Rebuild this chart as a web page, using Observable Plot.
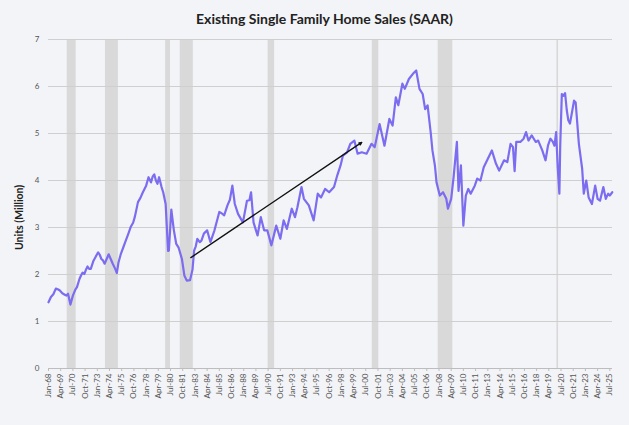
<!DOCTYPE html>
<html>
<head>
<meta charset="utf-8">
<script src="https://cdn.jsdelivr.net/npm/d3@7"></script>
<script src="https://cdn.jsdelivr.net/npm/@observablehq/plot@0.6"></script>
<style>
  html, body { margin: 0; padding: 0; background: #f3f4f7; }
  #title { height: 30px; line-height: 38px; text-align: center; padding-left: 20px; box-sizing: border-box;
           font-family: Lato, "Open Sans", sans-serif; font-weight: 700; font-size: 14px; color: #222; }
  #chart { width: 629px; }
</style>
</head>
<body>
<div id="title">Existing Single Family Home Sales (SAAR)</div>
<div id="chart"></div>
<script>
const months = [
  "1968-01","1968-04","1968-07","1968-10","1969-01","1969-03","1969-06","1969-09","1969-11",
  "1970-01","1970-04","1970-07","1970-10","1970-12","1971-03","1971-05","1971-07","1971-09","1971-11",
  "1972-01","1972-03","1972-05","1972-08","1972-11","1973-02","1973-04","1973-06","1973-08","1973-10",
  "1974-01","1974-03","1974-05","1974-08","1974-11","1975-01","1975-03","1975-06","1975-09","1975-12",
  "1976-03","1976-06","1976-09","1976-11","1977-01","1977-03","1977-06","1977-09","1977-11",
  "1978-01","1978-04","1978-07","1978-09","1978-11","1979-01","1979-03","1979-05","1979-08","1979-10",
  "1980-01","1980-04","1980-05","1980-08","1980-11","1981-02","1981-05","1981-09","1981-12",
  "1982-03","1982-07","1982-10","1982-12","1983-02","1983-04","1983-07","1983-09","1983-12",
  "1984-04","1984-08","1985-01","1985-07","1985-10","1986-01","1986-05","1986-08","1986-11",
  "1987-02","1987-06","1987-12","1988-05","1988-08","1988-10","1989-01","1989-06","1989-10",
  "1990-02","1990-06","1990-11","1991-05","1991-10","1992-02","1992-06","1992-12","1993-04","1993-07",
  "1993-12","1994-03","1994-09","1995-03","1995-08","1995-12","1996-05","1996-10","1997-04","1997-08",
  "1997-12","1998-03","1998-08","1998-12","1999-05","1999-09","2000-02","2000-08","2001-02","2001-06",
  "2001-12","2002-06","2002-12","2003-04","2003-08","2003-11","2004-04","2004-07","2004-12","2005-05",
  "2005-09","2006-01","2006-05","2006-08","2006-11","2007-03","2007-05","2007-08","2007-10","2008-02",
  "2008-06","2008-10","2008-12","2009-04","2009-07","2009-11","2010-01","2010-04","2010-07","2010-10",
  "2011-01","2011-04","2011-09","2011-12","2012-04","2012-08","2013-06","2013-11","2014-03","2014-09",
  "2015-01","2015-05","2015-08","2015-10","2015-12","2016-05","2016-09","2016-12","2017-03","2017-07",
  "2017-12","2018-03","2018-08","2018-12","2019-03","2019-06","2019-09","2019-11","2020-01","2020-03",
  "2020-05","2020-06","2020-08","2020-10","2020-12","2021-02","2021-04","2021-06","2021-09","2021-11",
  "2022-01","2022-05","2022-09","2022-11","2023-02","2023-05","2023-09","2024-01","2024-04","2024-07",
  "2024-11","2025-02","2025-05","2025-07","2025-10"
];
const sales = [
  1.41,1.52,1.58,1.70,1.68,1.66,1.60,1.57,1.55,
  1.59,1.36,1.55,1.68,1.73,1.90,1.98,2.04,2.01,2.10,
  2.17,2.12,2.12,2.28,2.38,2.47,2.42,2.33,2.30,2.23,
  2.35,2.43,2.35,2.23,2.12,2.03,2.25,2.44,2.58,2.72,
  2.86,3.01,3.10,3.22,3.38,3.54,3.63,3.75,3.82,
  3.89,4.07,3.96,4.08,4.13,4.00,3.93,4.07,3.86,3.75,
  3.50,2.50,2.51,3.38,2.95,2.65,2.57,2.33,1.98,
  1.87,1.88,2.10,2.51,2.60,2.76,2.69,2.72,2.87,
  2.94,2.69,2.94,3.33,3.30,3.26,3.47,3.59,3.89,
  3.50,3.29,3.11,3.57,3.58,3.75,3.11,2.83,3.22,
  2.94,2.94,2.62,3.04,2.76,3.15,2.97,3.40,3.22,3.43,
  3.86,3.61,3.47,3.15,3.72,3.64,3.82,3.75,3.86,4.11,
  4.32,4.53,4.60,4.78,4.85,4.57,4.60,4.57,4.78,4.71,
  5.20,4.74,5.31,5.17,5.77,5.60,6.06,5.95,6.16,6.27,
  6.34,5.95,5.84,5.52,5.60,5.00,4.64,4.32,3.96,3.68,
  3.75,3.61,3.40,3.61,4.07,4.82,3.78,4.32,3.04,3.68,
  3.82,3.72,3.89,4.04,4.00,4.28,4.64,4.36,4.21,4.43,
  4.39,4.78,4.71,4.20,4.82,4.82,4.89,5.03,4.85,4.96,
  4.82,4.85,4.64,4.43,4.74,4.89,4.82,4.74,5.03,4.28,
  3.72,4.71,5.84,5.80,5.86,5.50,5.28,5.21,5.50,5.70,
  5.66,4.78,4.25,3.72,4.00,3.64,3.50,3.89,3.61,3.57,
  3.86,3.61,3.72,3.68,3.75
];
const recessionStart = ["1969-12","1973-11","1980-01","1981-07","1990-07","2001-03","2007-12","2020-02"];
const recessionEnd   = ["1970-11","1975-03","1980-07","1982-11","1991-03","2001-11","2009-06","2020-04"];
const trendFrom = ["1982-08", 2.36];
const trendTo   = ["2000-02", 4.81];
const yTicks = [0,1,2,3,4,5,6,7];

const parse = d3.utcParse("%Y-%m");
const series = months.map((m, i) => ({date: parse(m), value: sales[i]}));
const recessions = recessionStart.map((s, i) => ({start: parse(s), end: parse(recessionEnd[i])}));
const trend = [{x1: parse(trendFrom[0]), y1: trendFrom[1], x2: parse(trendTo[0]), y2: trendTo[1]}];
const xTicks = d3.range(47).map(i => new Date(Date.UTC(1968, i * 15, 1)));

const chart = Plot.plot({
  width: 629,
  height: 395,
  marginTop: 9,
  marginBottom: 57,
  marginLeft: 48,
  marginRight: 17,
  style: {background: "transparent", fontFamily: "Lato, 'Open Sans', sans-serif", color: "#555"},
  x: {type: "utc", domain: [new Date(Date.UTC(1968,0,1)), new Date(Date.UTC(2025,9,10))]},
  y: {domain: [0, 7]},
  marks: [
    Plot.rect(recessions, {x1: "start", x2: "end", y1: 0, y2: 7, fill: "#d9d9d9"}),
    Plot.gridY(yTicks.filter(d => d > 0), {stroke: "#cfcfcf", strokeOpacity: 1, strokeWidth: 1}),
    Plot.ruleY([0], {stroke: "#bdbdbd", strokeWidth: 1}),
    Plot.axisY({ticks: yTicks, tickFormat: d => String(d), tickSize: 0, tickPadding: 9, label: null, fontSize: 8}),
    Plot.axisX({ticks: xTicks, tickFormat: d3.utcFormat("%b-%y"), tickRotate: -90, tickSize: 3,
                tickPadding: 2, label: null, fontSize: 8, stroke: "#bdbdbd"}),
    Plot.line(series, {x: "date", y: "value", stroke: "#7b6cf0", strokeWidth: 2.2, curve: "linear"}),
    Plot.arrow(trend, {x1: "x1", y1: "y1", x2: "x2", y2: "y2", stroke: "#111", strokeWidth: 1.4,
                       headLength: 3, headAngle: 50, bend: 0}),
    Plot.text(["Units (Million)"], {frameAnchor: "left", dx: -29, dy: 46, rotate: -90,
                                   fontWeight: "bold", fontSize: 10.5, fill: "#222"})
  ]
});
document.getElementById("chart").appendChild(chart);
</script>
</body>
</html>
